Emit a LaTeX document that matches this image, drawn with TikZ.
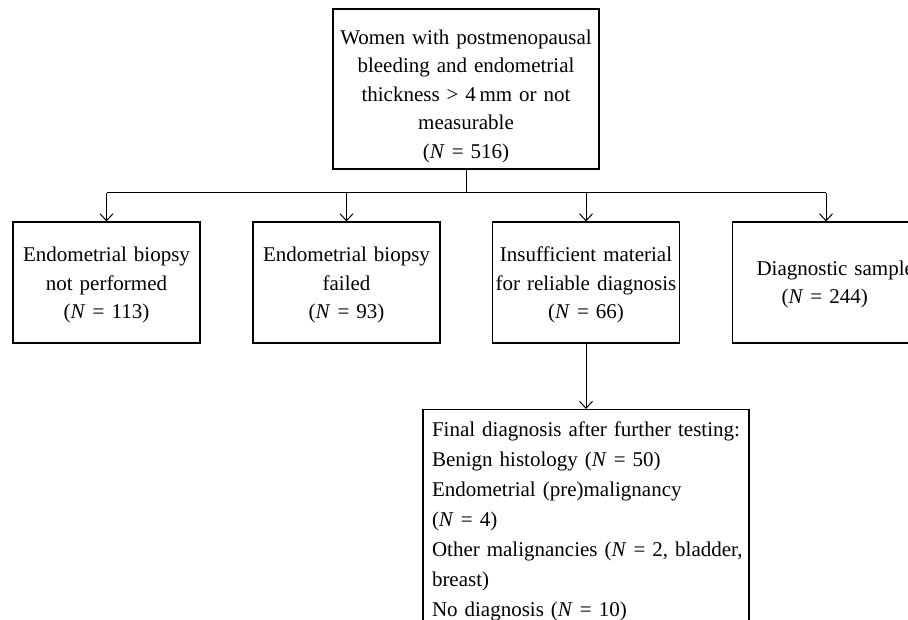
\documentclass[tikz,border=0pt]{standalone}
\usepackage{fontspec}
\setmainfont{Liberation Serif}
\usetikzlibrary{arrows.meta}
\newcommand{\upstrut}[1]{\vrule width 0pt height #1 depth 0pt}
\begin{document}
\begin{tikzpicture}[x=1pt,y=-1pt,
  every node/.style={font=\fontsize{21}{28.5}\selectfont},
  box/.style={draw, line width=1.1pt, rectangle, inner xsep=3pt, inner ysep=0pt, align=center},
  smallbox/.style={box, minimum width=187pt, minimum height=121pt, text width=181pt},
  link/.style={line width=1pt},
  arr/.style={link, -{Straight Barb[length=7pt,width=13pt]}}]
\useasboundingbox (0,0) rectangle (908,620);
\clip (0,0) rectangle (908,620);

\node[box, minimum width=266pt, minimum height=160pt, text width=260pt] (top) at (466,89)
  {\upstrut{29pt}Women with postmenopausal\\ bleeding and endometrial\\ thickness > 4\,mm or not\\ measurable\\ (\textit{N} = 516)};

\node[smallbox] (b1) at (106.5,282.5) {\upstrut{20pt}Endometrial biopsy\\ not performed\\ (\textit{N} = 113)};
\node[smallbox] (b2) at (346.5,282.5) {\upstrut{20pt}Endometrial biopsy\\ failed\\ (\textit{N} = 93)};
\node[smallbox] (b3) at (586,282.5) {\upstrut{20pt}Insufficient material\\ for reliable diagnosis\\ (\textit{N} = 66)};
\node[smallbox, align=left] (b4) at (826,282.5) {\upstrut{18pt}\hspace*{21pt}Diagnostic sample\\ \hspace*{46pt}(\textit{N} = 244)};

\node[box, anchor=north, minimum width=326pt, text width=308pt, inner xsep=9pt, inner ysep=11.7pt,
  align=left, font=\fontsize{21}{30}\selectfont] (bot) at (586,409)
  {Final diagnosis after further testing:\\
   Benign histology (\textit{N} = 50)\\
   Endometrial (pre)malignancy\\
   (\textit{N} = 4)\\
   \mbox{Other malignancies (\textit{N} = 2, bladder,}\\
   breast)\\
   No diagnosis (\textit{N} = 10)};

\coordinate (j) at (466,193);
\draw[link] (top.south) -- (j);
\draw[link] (b1.north |- j) -- (b4.north |- j);
\foreach \n in {b1,b2,b3,b4} \draw[arr] (\n.north |- j) -- (\n.north);
\draw[arr] (b3.south) -- (bot.north);
\end{tikzpicture}
\end{document}
